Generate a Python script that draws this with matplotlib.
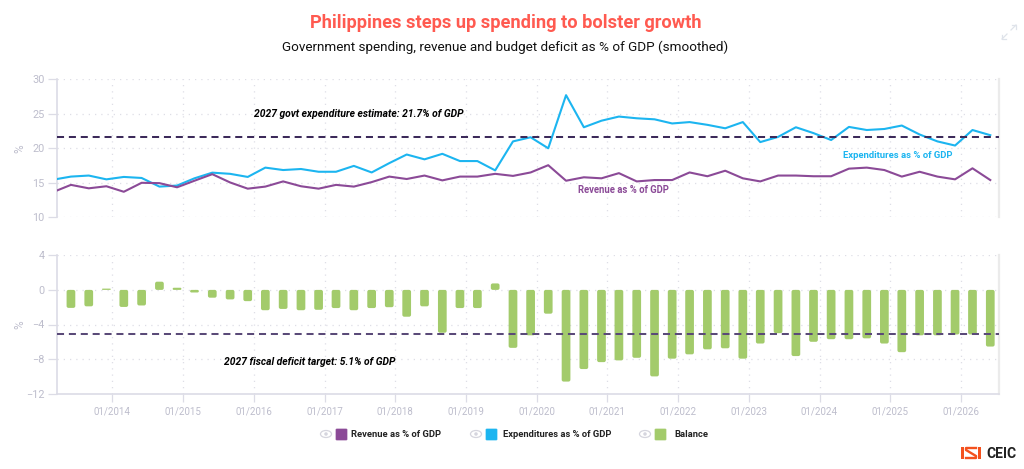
import matplotlib
matplotlib.use('Agg')
import matplotlib.pyplot as plt
import matplotlib.dates as mdates
from matplotlib.patches import Rectangle, FancyBboxPatch, Ellipse
import pandas as pd

# Quarterly data, first value (03/2013) sits just left of the axis
dates = pd.date_range('2013-03-01', '2026-06-01', freq='3MS')
expenditure = [15.45, 15.9, 16.05, 15.5, 15.85, 15.7, 14.45, 14.6, 15.65, 16.47, 16.3, 15.85, 17.2, 16.85,
               17.0, 16.6, 16.6, 17.45, 16.5, 17.85, 19.1, 18.4, 19.2, 18.15, 18.15, 16.8, 21.0, 21.6,
               20.0, 27.7, 23.05, 24.0, 24.6, 24.35, 24.2, 23.6, 23.8, 23.4, 22.9, 23.8, 20.9, 21.65,
               23.05, 22.2, 21.2, 23.1, 22.65, 22.8, 23.3, 22.0, 21.0, 20.4, 22.65, 21.9]
revenue = [13.66, 14.7, 14.2, 14.5, 13.7, 15.0, 14.95, 14.35, 15.3, 16.25, 15.05, 14.15, 14.45, 15.2,
           14.5, 14.15, 14.7, 14.45, 15.1, 15.9, 15.55, 16.05, 15.35, 15.9, 15.9, 16.3, 16.0, 16.5,
           17.55, 15.3, 15.8, 15.65, 16.4, 15.2, 15.4, 15.4, 16.5, 15.95, 16.75, 15.65, 15.2, 16.05,
           16.05, 15.95, 15.95, 17.05, 17.2, 16.85, 15.9, 16.6, 15.9, 15.5, 17.1, 15.4]
balance = [-2.08, -1.9, 0.15, -1.97, -1.8, 0.95, 0.25, -0.3, -0.9, -1.1, -1.3, -2.35, -2.2, -2.35,
           -2.3, -2.1, -2.35, -2.1, -2.0, -3.1, -1.9, -4.95, -2.1, -2.1, 0.75, -6.7, -5.25, -2.75,
           -10.6, -9.15, -8.35, -8.15, -7.85, -10.0, -7.95, -7.45, -6.87, -6.75, -7.95, -6.2, -5.0,
           -7.65, -6.0, -5.7, -5.7, -5.6, -6.2, -7.2, -5.25, -5.25, -5.15, -5.15, -6.55]
expenditure_target = 21.7
deficit_target = -5.1
top_ticks = [10, 15, 20, 25, 30]
bottom_ticks = [-12, -8, -4, 0, 4]
year_ticks = pd.date_range('2014-01-01', '2026-01-01', freq='YS')

plt.rcParams['font.family'] = ['Roboto', 'DejaVu Sans']

W, H = 1024, 469
REV_COL = '#8b4a97'
EXP_COL = '#1cb5f0'
BAL_COL = '#a3cb6b'
AXIS_COL = '#dcdce6'
GRID_COL = '#dedee6'
TICK_COL = '#bdbdcc'
DASH = (0, (3.5, 2.4))

fig = plt.figure(figsize=(W / 100, H / 100), dpi=100)


def px_axes(left, top, right, bottom):
    return fig.add_axes([left / W, 1 - bottom / H, (right - left) / W, (bottom - top) / H])


ax1 = px_axes(57, 79.3, 999, 217.3)
ax2 = px_axes(57, 255.3, 999, 393.7)

xmin = pd.Timestamp('2013-03-21')
xmax = pd.Timestamp('2026-07-16')

for ax, ticks in ((ax1, top_ticks), (ax2, bottom_ticks)):
    ax.set_xlim(xmin, xmax)
    ax.set_ylim(ticks[0], ticks[-1])
    ax.set_yticks(ticks)
    ax.set_xticks(year_ticks)
    ax.grid(True, color=GRID_COL, linestyle=(0, (1, 4)), linewidth=0.9)
    ax.set_axisbelow(True)
    ax.set_ylabel('%', color=TICK_COL, fontsize=8.5)
    ax.yaxis.set_label_coords(-0.0325, 0.5)
    ax.spines['top'].set_visible(False)
    ax.spines['left'].set_color(AXIS_COL)
    ax.spines['left'].set_linewidth(1.2)
    ax.spines['right'].set_color('#ebebeb')
    ax.spines['right'].set_linewidth(1.6)
    ax.spines['bottom'].set_color(AXIS_COL)
    ax.spines['bottom'].set_linewidth(1.2)
    ax.tick_params(axis='y', length=6.5, width=0.9, color=AXIS_COL, labelcolor=TICK_COL, labelsize=7.8, pad=2.5)

ax1.spines['bottom'].set_visible(False)
ax1.tick_params(axis='x', length=0, labelbottom=False)
ax2.xaxis.set_major_formatter(mdates.DateFormatter('%m/%Y'))
ax2.tick_params(axis='x', length=6, width=0.9, color=AXIS_COL, labelcolor=TICK_COL, labelsize=7, pad=3.5)

# top panel
ax1.plot(dates, expenditure, color=EXP_COL, linewidth=1.5, zorder=3)
ax1.plot(dates, revenue, color=REV_COL, linewidth=1.5, zorder=3)
ax1.axhline(expenditure_target, color='#3c2a5a', linewidth=1.45, linestyle=DASH, zorder=4)
ax1.text(pd.Timestamp('2016-01-01'), 24.9, '2027 govt expenditure estimate: 21.7% of GDP', fontsize=7.4,
         fontweight='bold', fontstyle='italic', color='black', ha='left', va='center')
ax1.text(pd.Timestamp('2024-05-01'), 18.95, 'Expenditures as % of GDP', fontsize=6.8, fontweight='bold',
         color=EXP_COL, ha='left', va='center')
ax1.text(pd.Timestamp('2020-08-03'), 14.0, 'Revenue as % of GDP', fontsize=6.85, fontweight='bold',
         color=REV_COL, ha='left', va='center')

# bottom panel, bars redrawn with small rounded corners
bars = ax2.bar(dates[1:], balance, width=45, color=BAL_COL, zorder=3)
aspect = (942 / (mdates.date2num(xmax) - mdates.date2num(xmin))) / (138.4 / 16)
for r in bars:
    r.set_visible(False)
    x0, y0, w, h = r.get_x(), r.get_y(), r.get_width(), r.get_height()
    if h < 0:
        y0, h = y0 + h, -h
    rounding = min(10, h / 2 / aspect)
    ax2.add_patch(FancyBboxPatch((x0, y0), w, h, boxstyle='round,pad=0,rounding_size=%f' % rounding,
                                 mutation_aspect=aspect, facecolor=BAL_COL, edgecolor='none', zorder=3))
ax2.axhline(deficit_target, color='#5a4a78', linewidth=1.45, linestyle=DASH, zorder=4)
ax2.text(pd.Timestamp('2015-08-03'), -8.35, '2027 fiscal deficit target: 5.1% of GDP', fontsize=7.35,
         fontweight='bold', fontstyle='italic', color='black', ha='left', va='center')

# titles
fig.text(505.5 / W, 1 - 22.8 / H, 'Philippines steps up spending to bolster growth', color='#ff5a50', fontsize=13.15,
         fontweight='bold', ha='center', va='center')
fig.text(505.5 / W, 1 - 47 / H, 'Government spending, revenue and budget deficit as % of GDP (smoothed)', color='#111111',
         fontsize=9.7, ha='center', va='center')


# legend, laid out by hand like the original
def legend_item(x_eye, x_box, x_text, colour, label):
    fig.add_artist(Ellipse((x_eye / W, 1 - 434 / H), 11 / W, 7 / H, transform=fig.transFigure, facecolor='white',
                           edgecolor='#d5d5de', linewidth=0.9))
    fig.add_artist(Ellipse((x_eye / W, 1 - 434 / H), 3.5 / W, 3.5 / H, transform=fig.transFigure, facecolor='#d5d5de',
                           edgecolor='none'))
    fig.add_artist(FancyBboxPatch((x_box / W, 1 - 440 / H), 11 / W, 11 / H, boxstyle='round,pad=0,rounding_size=0.001',
                                  transform=fig.transFigure, facecolor=colour, edgecolor=colour, linewidth=0.5))
    fig.text(x_text / W, 1 - 434.5 / H, label, fontsize=6.75, fontweight='bold', color='#222222', ha='left', va='center')


legend_item(326, 336, 351, REV_COL, 'Revenue as % of GDP')
legend_item(476, 486, 503, EXP_COL, 'Expenditures as % of GDP')
legend_item(645, 655, 674, BAL_COL, 'Balance')

# CEIC logo
LOGO = '#f4511e'
for x0 in (961, 977.7):
    fig.add_artist(Rectangle((x0 / W, 1 - 459 / H), 3 / W, 12.3 / H, transform=fig.transFigure,
                             facecolor=LOGO, edgecolor='none'))
fig.add_artist(plt.Line2D([976 / W, 966 / W, 966 / W, 976 / W, 976 / W, 966 / W],
                          [1 - y / H for y in (448, 448, 450, 456, 458, 458)], color=LOGO, linewidth=1.7))
fig.text(986.5 / W, 1 - 453.5 / H, 'CEIC', fontsize=10, fontweight='bold', color='#222222', ha='left', va='center')

# expand icon, top right
for xs, ys in (((1002, 1007), (39, 34)), ((1011, 1016), (30, 25)), ((1002, 1002, 1006), (35, 39, 39)),
               ((1012, 1016, 1016), (25, 25, 29))):
    fig.add_artist(plt.Line2D([x / W for x in xs], [1 - y / H for y in ys], color='#dfe3ea', linewidth=0.9))

fig.savefig('out.png', dpi=100)
